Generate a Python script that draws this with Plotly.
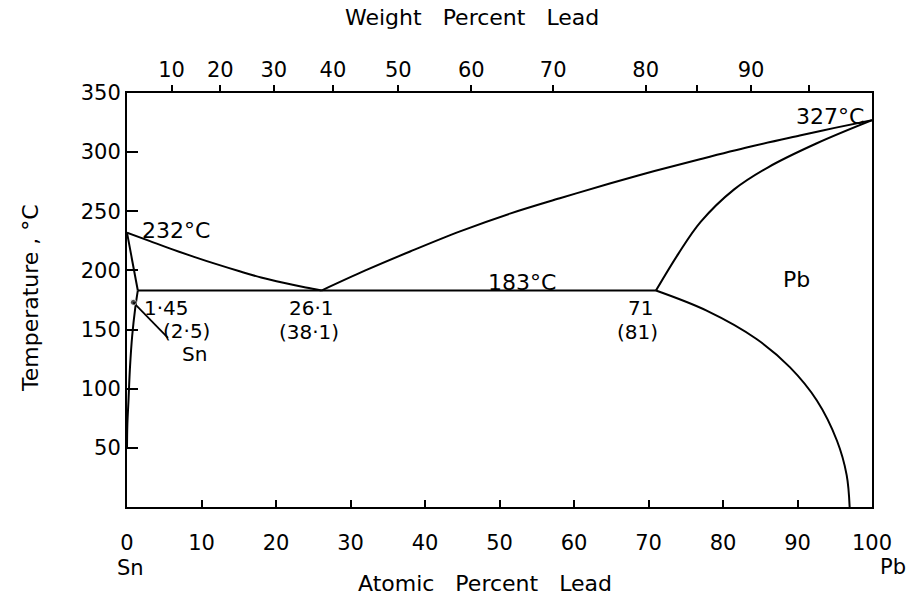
import plotly.graph_objects as go

# ---- data (atomic percent Pb, temperature degC) ----
sn_liquidus_x = [0, 3, 6, 9, 12, 15, 18, 21, 24, 26.1]
sn_liquidus_t = [232, 225, 218, 211.5, 205.3, 199.5, 194, 189.5, 185.5, 183]

pb_liquidus_x = [26.1, 32, 38.0, 44.7, 51.4, 58.1, 64.8, 70.8, 76.9, 83.6, 90.3, 95, 100]
pb_liquidus_t = [183, 200, 216, 233, 248, 261, 273.5, 284, 294, 304.5, 314, 320.5, 327]

pb_solidus_x = [71, 74, 77, 81.5, 86, 92.6, 100]
pb_solidus_t = [183, 214, 241, 268.5, 287, 307.5, 327]

pb_solvus_x = [71, 77.8, 84.5, 89.0, 92.6, 95.3, 96.6, 97.0]
pb_solvus_t = [183, 166, 142, 118, 90, 56, 27, 0]

sn_solidus_x = [0, 1.45]
sn_solidus_t = [232, 183]

sn_solvus_x = [1.45, 1.1, 0.7, 0.4, 0.2, 0.05, 0]
sn_solvus_t = [183, 168, 145, 118, 90, 70, 50]

eutectic_x = [1.45, 71]
eutectic_t = [183, 183]

leader_x = [0.85, 5.5]
leader_t = [173, 143]

atomic_ticks = [0, 10, 20, 30, 40, 50, 60, 70, 80, 90, 100]
temp_ticks = [50, 100, 150, 200, 250, 300, 350]
weight_ticks = [10, 20, 30, 40, 50, 60, 70, 80, 85, 90, 95]
weight_labels = ["10", "20", "30", "40", "50", "60", "70", "80", "", "90", ""]

M_SN, M_PB = 118.71, 207.2


def wt_to_at(w):
    a = w / M_PB
    b = (100 - w) / M_SN
    return 100 * a / (a + b)


FONT = "DejaVu Sans"
BLACK = "black"

fig = go.Figure()
for xs, ts, shape in [
    (sn_liquidus_x, sn_liquidus_t, "spline"),
    (pb_liquidus_x, pb_liquidus_t, "spline"),
    (pb_solidus_x, pb_solidus_t, "spline"),
    (pb_solvus_x, pb_solvus_t, "spline"),
    (sn_solidus_x, sn_solidus_t, "linear"),
    (sn_solvus_x, sn_solvus_t, "spline"),
    (eutectic_x, eutectic_t, "linear"),
]:
    fig.add_trace(go.Scatter(x=xs, y=ts, mode="lines",
                             line=dict(color=BLACK, width=2, shape=shape),
                             hoverinfo="skip", showlegend=False))

fig.add_trace(go.Scatter(x=leader_x, y=leader_t, mode="lines+markers",
                         line=dict(color=BLACK, width=1.8),
                         marker=dict(size=[6, 0], color=BLACK),
                         hoverinfo="skip", showlegend=False))

# invisible trace for the top (weight %) axis
fig.add_trace(go.Scatter(x=[0, 100], y=[0, 0], xaxis="x2", mode="lines",
                         line=dict(width=0), hoverinfo="skip", showlegend=False))

labels = [
    ("232°C", 1.75, 234, "left", 22),
    ("1·45", 2.0, 168.5, "left", 20),
    ("(2·5)", 4.6, 149, "left", 20),
    ("Sn", 7.1, 129.5, "left", 20),
    ("26·1", 24.7, 168, "center", 20),
    ("(38·1)", 24.4, 148, "center", 20),
    ("183°C", 53.0, 190, "center", 22),
    ("71", 68.9, 168, "center", 20),
    ("(81)", 68.5, 148, "center", 20),
    ("Pb", 89.9, 192, "center", 22),
    ("327°C", 94.3, 330, "center", 22),
]
for text, x, y, anchor, size in labels:
    fig.add_annotation(x=x, y=y, xref="x", yref="y", text=text, showarrow=False,
                       xanchor=anchor, yanchor="middle",
                       font=dict(family=FONT, size=size, color=BLACK))

W, H = 915, 602
L, R, T, B = 127, 43, 93, 95
pw, ph = W - L - R, H - T - B


def px(xp):
    return (xp - L) / pw


def py(yp):
    return (H - B - yp) / ph


def paper_text(text, x, y, size, angle=0):
    fig.add_annotation(x=px(x), y=py(y), xref="paper", yref="paper",
                       text=text, showarrow=False, textangle=angle,
                       xanchor="center", yanchor="middle",
                       font=dict(family=FONT, size=size, color=BLACK))


paper_text("Weight   Percent   Lead", 472, 17, 22)
paper_text("Atomic   Percent   Lead", 485, 583, 22)
paper_text("Sn", 130, 568, 21)
paper_text("Pb", 893, 567, 21)
paper_text("Temperature , °C", 30, 298, 22, -90)

fig.update_layout(
    width=W, height=H,
    margin=dict(l=L, r=R, t=T, b=B),
    paper_bgcolor="white", plot_bgcolor="white",
    font=dict(family=FONT, size=21, color=BLACK),
    xaxis=dict(range=[0, 100], tickvals=atomic_ticks, ticks="inside", ticklen=7,
               tickwidth=1.5, tickcolor=BLACK, showline=True, linecolor=BLACK,
               linewidth=2, mirror=False, showgrid=False, zeroline=False,
               ticklabelstandoff=16, tickfont=dict(size=21)),
    xaxis2=dict(range=[0, 100], overlaying="x", side="top",
                tickvals=[wt_to_at(w) for w in weight_ticks], ticktext=weight_labels,
                ticks="outside", ticklen=6, tickwidth=1.5, tickcolor=BLACK,
                showline=True, linecolor=BLACK, linewidth=2, showgrid=False,
                zeroline=False, tickfont=dict(size=21)),
    yaxis=dict(range=[0, 350], tickvals=temp_ticks, ticks="inside", ticklen=11,
               tickwidth=1.5, tickcolor=BLACK, showline=True, linecolor=BLACK,
               linewidth=2, mirror=True, showgrid=False, zeroline=False,
               tickfont=dict(size=21)),
)

fig.write_html("out.html")
